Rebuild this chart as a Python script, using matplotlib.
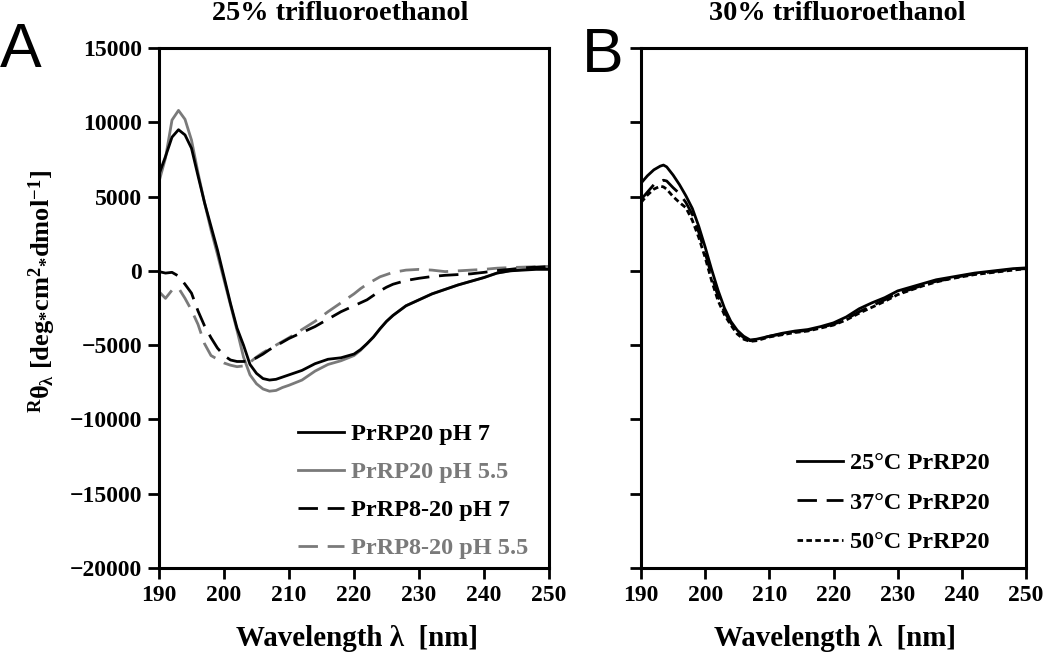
import numpy as np
import matplotlib
matplotlib.use('Agg')
import matplotlib.pyplot as plt

plt.rcParams['font.family'] = ['Liberation Serif', 'DejaVu Serif']
plt.rcParams['font.weight'] = 'bold'
plt.rcParams['mathtext.fontset'] = 'custom'
plt.rcParams['mathtext.rm'] = 'Liberation Serif:bold'
plt.rcParams['mathtext.it'] = 'Liberation Serif:bold'
plt.rcParams['mathtext.bf'] = 'Liberation Serif:bold'

# panel A: 25% TFE
wl_a = [190, 191, 192, 193, 194, 195, 196, 197, 198, 199, 200, 201, 202, 203, 204,
        205, 206, 207, 208, 209, 210, 212, 214, 216, 218, 220, 221, 222, 223, 224,
        225, 226, 228, 230, 232, 234, 236, 238, 240, 242, 244, 246, 248, 250]
prrp20_ph7 = [6500, 7700, 9000, 9500, 9150, 8250, 6400, 4600, 3000, 1400, -400, -2200,
              -3850, -5000, -6300, -6900, -7250, -7350, -7300, -7150, -7000, -6700,
              -6250, -5950, -5850, -5600, -5300, -4900, -4450, -3900, -3400, -3000,
              -2350, -1950, -1550, -1250, -950, -700, -450, -150, 0, 50, 100, 100]
prrp20_ph55 = [6000, 7600, 10150, 10800, 10200, 8800, 6600, 4600, 2750, 1100, -600, -2300,
               -4000, -5800, -7000, -7600, -7950, -8100, -8050, -7850, -7700, -7350,
               -6750, -6300, -6050, -5700, -5350, -4900, -4450, -3900, -3400, -3000,
               -2350, -1950, -1550, -1250, -950, -700, -450, -150, 0, 100, 150, 200]
prrp820_ph7 = [-50, -150, -100, -350, -900, -1500, -2700, -3700, -4500, -5200, -5700, -6000,
               -6100, -6100, -6050, -5850, -5600, -5300, -5050, -4800, -4550, -4150,
               -3750, -3250, -2750, -2350, -2150, -1950, -1650, -1350, -1100, -900,
               -650, -500, -380, -300, -250, -200, -100, 20, 100, 200, 250, 300]
prrp820_ph55 = [-1400, -1850, -1300, -1150, -1850, -2650, -3600, -4900, -5700, -5950, -6200,
                -6350, -6450, -6400, -6150, -5800, -5500, -5250, -5000, -4750, -4500,
                -3950, -3400, -2750, -2150, -1550, -1200, -900, -650, -400, -250, -100,
                50, 100, 50, -50, 0, 50, 100, 180, 220, 250, 280, 300]

# panel B: 30% TFE
wl_b = [190, 191, 192, 193, 193.5, 194, 195, 196, 197, 198, 199, 200, 201, 202, 203, 204,
        205, 206, 207, 208, 210, 212, 214, 216, 218, 220, 222, 224, 226, 228, 230, 232,
        234, 236, 238, 240, 242, 244, 246, 248, 250]
t25 = [5900, 6400, 6800, 7050, 7120, 7000, 6450, 5800, 5050, 4200, 3000, 1600, 100, -1300,
       -2500, -3400, -4000, -4400, -4650, -4600, -4400, -4200, -4050, -3950, -3750, -3500,
       -3100, -2550, -2150, -1800, -1350, -1100, -850, -600, -450, -300, -150, -50, 50, 150, 200]
t37 = [4800, 5300, 5800, 6000, 6100, 6050, 5600, 5200, 4600, 3800, 2600, 1200, -300, -1700,
       -2750, -3500, -4100, -4500, -4700, -4650, -4400, -4250, -4100, -4000, -3800, -3600,
       -3250, -2750, -2350, -1950, -1500, -1250, -950, -700, -550, -350, -200, -100, 0, 100, 150]
t50 = [4600, 5100, 5500, 5700, 5650, 5500, 5000, 4600, 4250, 3400, 2250, 900, -650, -2000,
       -2950, -3650, -4250, -4600, -4750, -4700, -4450, -4300, -4150, -4050, -3850, -3650,
       -3300, -2850, -2450, -2050, -1600, -1300, -1000, -750, -550, -400, -250, -150, -50, 50, 150]

gray = '#7a7a7a'
lw = 2.0

fig = plt.figure(figsize=(10.5, 6.53), dpi=100)
axA = fig.add_axes([159/1050, 1-568/653, 390/1050, 520/653])
axB = fig.add_axes([641/1050, 1-568/653, 385/1050, 520/653])

axA.plot(wl_a, prrp20_ph55, color=gray, lw=lw, label='PrRP20 pH 5.5')
axA.plot(wl_a, prrp820_ph55, color=gray, lw=lw, dashes=(7, 3.5), label='PrRP8-20 pH 5.5')
axA.plot(wl_a, prrp820_ph7, color='black', lw=lw, dashes=(7, 3.5), label='PrRP8-20 pH 7')
axA.plot(wl_a, prrp20_ph7, color='black', lw=lw, label='PrRP20 pH 7')

axB.plot(wl_b, t50, color='black', lw=lw, dashes=(2, 1.2), label='50°C PrRP20')
axB.plot(wl_b, t37, color='black', lw=lw, dashes=(7, 3.5), label='37°C PrRP20')
axB.plot(wl_b, t25, color='black', lw=lw, label='25°C PrRP20')

for ax in (axA, axB):
    ax.set_xlim(190, 250)
    ax.set_ylim(-20000, 15000)
    ax.set_xticks(range(190, 251, 10))
    ax.set_yticks(range(-20000, 15001, 5000))
    for s in ax.spines.values():
        s.set_linewidth(2.2)
    ax.tick_params(direction='out', length=8, width=2, labelsize=17, pad=4)
axB.tick_params(labelleft=False)

# legends in the given order
hA, lA = axA.get_legend_handles_labels()
order = ['PrRP20 pH 7', 'PrRP20 pH 5.5', 'PrRP8-20 pH 7', 'PrRP8-20 pH 5.5']
hA = [hA[lA.index(o)] for o in order]
legA = axA.legend(hA, order, loc='upper left', bbox_to_anchor=(298/1050, 1-423/653),
                  bbox_transform=fig.transFigure, frameon=False, fontsize=17.5,
                  handlelength=1.9, handletextpad=0.3, labelspacing=0.66,
                  borderpad=0, borderaxespad=0)
for t, c in zip(legA.get_texts(), ['black', gray, 'black', gray]):
    t.set_color(c)

hB, lB = axB.get_legend_handles_labels()
orderB = ['25°C PrRP20', '37°C PrRP20', '50°C PrRP20']
hB = [hB[lB.index(o)] for o in orderB]
axB.legend(hB, orderB, loc='upper left', bbox_to_anchor=(797/1050, 1-452/653),
           bbox_transform=fig.transFigure, frameon=False, fontsize=17.5,
           handlelength=1.9, handletextpad=0.3, labelspacing=0.72,
           borderpad=0, borderaxespad=0)

fig.text(340/1050, 1-20/653, '25% trifluoroethanol', ha='center', va='baseline', fontsize=20.3)
fig.text(837/1050, 1-20/653, '30% trifluoroethanol', ha='center', va='baseline', fontsize=20.3)
fig.text(0/1050, 1-67/653, 'A', ha='left', va='baseline', fontsize=45,
         family='Liberation Sans', weight='normal')
fig.text(582/1050, 1-72/653, 'B', ha='left', va='baseline', fontsize=45,
         family='Liberation Sans', weight='normal')

fig.text(357/1050, 1-638/653, 'Wavelength λ  [nm]', ha='center', va='center', fontsize=20.9)
fig.text(835/1050, 1-638/653, 'Wavelength λ  [nm]', ha='center', va='center', fontsize=20.9)
fig.text(42/1050, 1-292/653,
         r'$^{\mathrm{R}}\theta_{\lambda}$ [deg$_{*}$cm$^{2}$$_{*}$dmol$^{-1}$]',
         rotation=90, ha='center', va='center', fontsize=19)

fig.savefig('out.png', dpi=100)
